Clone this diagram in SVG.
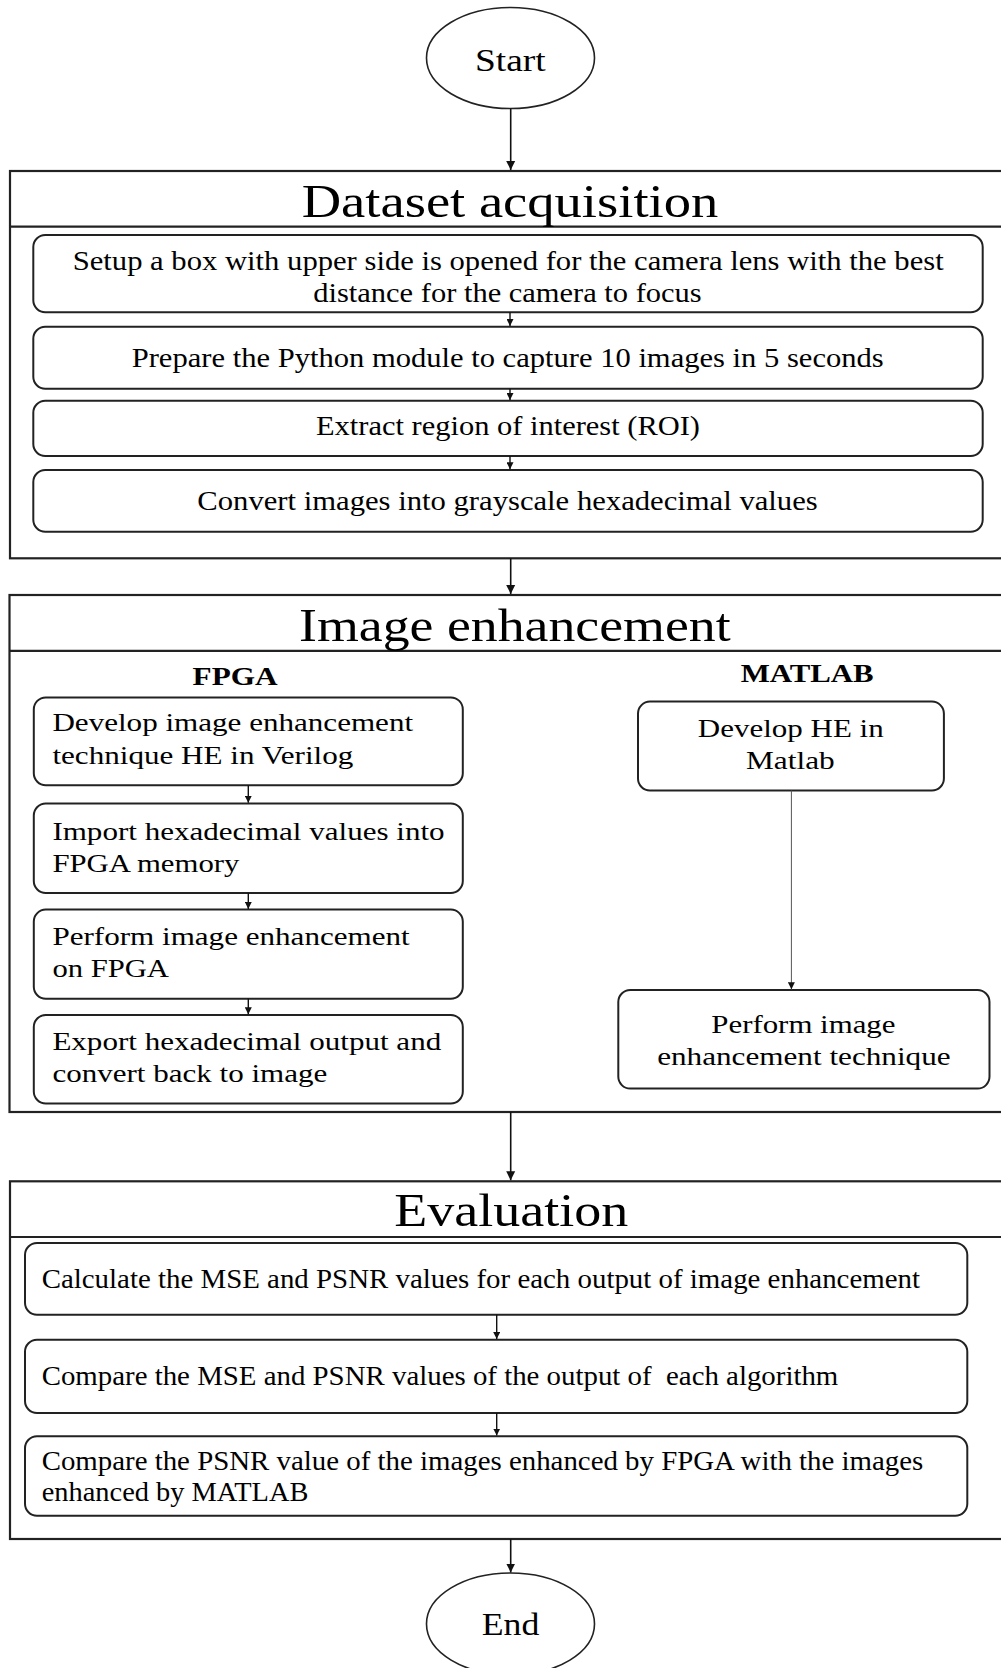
<svg xmlns="http://www.w3.org/2000/svg" width="1001" height="1668" viewBox="0 0 1001 1668">
<defs>
<style>
text{font-family:"Liberation Serif","Times New Roman",serif;fill:#000}
.t{font-size:47px}
.s{font-size:28px}
.m{font-size:25.5px}
.lb{font-size:26px;font-weight:bold}
.se{font-size:32px}
.sec{fill:#fff;stroke:#222;stroke-width:2.2}
.box{fill:#fff;stroke:#222;stroke-width:2}
.div{stroke:#222;stroke-width:2.2}
.ell{fill:#fff;stroke:#222;stroke-width:1.6}
.c{stroke:#111;stroke-width:1.6;fill:none}
.cs{stroke:#111;stroke-width:1.4;fill:none}
.ct{stroke:#555;stroke-width:1;fill:none}
</style>
<marker id="ah" viewBox="0 0 10 10" refX="10" refY="5" markerWidth="9" markerHeight="10" markerUnits="userSpaceOnUse" orient="auto">
<path d="M0,0 L10,5 L0,10 z" fill="#111"/>
</marker>
<marker id="ahs" viewBox="0 0 10 10" refX="10" refY="5" markerWidth="7" markerHeight="7" markerUnits="userSpaceOnUse" orient="auto">
<path d="M0,0 L10,5 L0,10 z" fill="#111"/>
</marker>
</defs>
<rect width="1001" height="1668" fill="#fff"/>

<g id="start">
<ellipse class="ell" cx="510.5" cy="58" rx="84" ry="50.5"/>
<text class="se" x="475" y="70.7" textLength="70.7" lengthAdjust="spacingAndGlyphs">Start</text>
</g>

<g id="dataset">
<rect class="sec" x="10" y="171" width="1010" height="387.3"/>
<line class="div" x1="10" y1="226.7" x2="1010" y2="226.7"/>
<text class="t" x="301.7" y="216.7" textLength="416.6" lengthAdjust="spacingAndGlyphs">Dataset acquisition</text>
</g>
<g id="setup">
<rect class="box" x="33.3" y="235" width="949.4" height="77.3" rx="12"/>
<text class="s" x="72.7" y="270" textLength="871" lengthAdjust="spacingAndGlyphs">Setup a box with upper side is opened for the camera lens with the best</text>
<text class="s" x="313.3" y="301.7" textLength="388.4" lengthAdjust="spacingAndGlyphs">distance for the camera to focus</text>
</g>
<g id="prepare">
<rect class="box" x="33.3" y="326.7" width="949.4" height="62" rx="12"/>
<text class="s" x="131.7" y="367" textLength="752" lengthAdjust="spacingAndGlyphs">Prepare the Python module to capture 10 images in 5 seconds</text>
</g>
<g id="extract">
<rect class="box" x="33.3" y="400.7" width="949.4" height="55.3" rx="12"/>
<text class="s" x="316" y="435.2" textLength="384" lengthAdjust="spacingAndGlyphs">Extract region of interest (ROI)</text>
</g>
<g id="convert">
<rect class="box" x="33.3" y="470" width="949.4" height="61.7" rx="12"/>
<text class="s" x="197.3" y="510" textLength="620.4" lengthAdjust="spacingAndGlyphs">Convert images into grayscale hexadecimal values</text>
</g>

<g id="enhancement">
<rect class="sec" x="9.5" y="595" width="1010" height="517"/>
<line class="div" x1="9.5" y1="650.8" x2="1010" y2="650.8"/>
<text class="t" x="299" y="640.7" textLength="431.7" lengthAdjust="spacingAndGlyphs">Image enhancement</text>
<text class="lb" x="192.6" y="685.3" textLength="85" lengthAdjust="spacingAndGlyphs">FPGA</text>
<text class="lb" x="740.7" y="682" textLength="133" lengthAdjust="spacingAndGlyphs">MATLAB</text>
</g>
<g id="fpga1">
<rect class="box" x="33.8" y="697.4" width="429" height="87.9" rx="12"/>
<text class="m" x="52.4" y="731.3" textLength="360.7" lengthAdjust="spacingAndGlyphs">Develop image enhancement</text>
<text class="m" x="52.4" y="764.1" textLength="300.9" lengthAdjust="spacingAndGlyphs">technique HE in Verilog</text>
</g>
<g id="fpga2">
<rect class="box" x="33.8" y="803.5" width="429" height="89.5" rx="12"/>
<text class="m" x="52.4" y="840.2" textLength="392.2" lengthAdjust="spacingAndGlyphs">Import hexadecimal values into</text>
<text class="m" x="52.4" y="871.6" textLength="187" lengthAdjust="spacingAndGlyphs">FPGA memory</text>
</g>
<g id="fpga3">
<rect class="box" x="33.8" y="909.6" width="429" height="89.2" rx="12"/>
<text class="m" x="52.4" y="945" textLength="357.3" lengthAdjust="spacingAndGlyphs">Perform image enhancement</text>
<text class="m" x="52.4" y="977.1" textLength="116.6" lengthAdjust="spacingAndGlyphs">on FPGA</text>
</g>
<g id="fpga4">
<rect class="box" x="33.8" y="1015" width="429" height="88.5" rx="12"/>
<text class="m" x="52.4" y="1050.4" textLength="388.8" lengthAdjust="spacingAndGlyphs">Export hexadecimal output and</text>
<text class="m" x="52.4" y="1081.9" textLength="274.9" lengthAdjust="spacingAndGlyphs">convert back to image</text>
</g>
<g id="matlab1">
<rect class="box" x="638" y="701.6" width="305.9" height="88.9" rx="12"/>
<text class="m" x="697.8" y="737" textLength="185.9" lengthAdjust="spacingAndGlyphs">Develop HE in</text>
<text class="m" x="746" y="769.2" textLength="88.7" lengthAdjust="spacingAndGlyphs">Matlab</text>
</g>
<g id="matlab2">
<rect class="box" x="618.3" y="990" width="371.2" height="98.6" rx="12"/>
<text class="m" x="711.3" y="1032.9" textLength="184.2" lengthAdjust="spacingAndGlyphs">Perform image</text>
<text class="m" x="657.2" y="1065" textLength="293.4" lengthAdjust="spacingAndGlyphs">enhancement technique</text>
</g>

<g id="evaluation">
<rect class="sec" x="10" y="1181.3" width="1010" height="357.7"/>
<line class="div" x1="10" y1="1237" x2="1010" y2="1237"/>
<text class="t" x="394.3" y="1226" textLength="234" lengthAdjust="spacingAndGlyphs">Evaluation</text>
</g>
<g id="eval1">
<rect class="box" x="25" y="1243" width="942.3" height="71.7" rx="12"/>
<text class="s" x="41.7" y="1288" textLength="878.3" lengthAdjust="spacingAndGlyphs">Calculate the MSE and PSNR values for each output of image enhancement</text>
</g>
<g id="eval2">
<rect class="box" x="25" y="1339.7" width="942.3" height="73.3" rx="12"/>
<text class="s" x="41.7" y="1385.3" textLength="796.6" lengthAdjust="spacingAndGlyphs" xml:space="preserve">Compare the MSE and PSNR values of the output of  each algorithm</text>
</g>
<g id="eval3">
<rect class="box" x="25" y="1436.3" width="942.3" height="79.4" rx="12"/>
<text class="s" x="41.7" y="1469.7" textLength="881.6" lengthAdjust="spacingAndGlyphs">Compare the PSNR value of the images enhanced by FPGA with the images</text>
<text class="s" x="41.7" y="1500.7" textLength="266.7" lengthAdjust="spacingAndGlyphs">enhanced by MATLAB</text>
</g>

<g id="end">
<ellipse class="ell" cx="510.5" cy="1624" rx="84" ry="51"/>
<text class="se" x="481.7" y="1634.7" textLength="57.6" lengthAdjust="spacingAndGlyphs">End</text>
</g>

<g id="connectors">
<line class="c" x1="510.7" y1="108.5" x2="510.7" y2="170" marker-end="url(#ah)"/>
<line class="cs" x1="510" y1="312.3" x2="510" y2="326" marker-end="url(#ahs)"/>
<line class="cs" x1="510" y1="388.7" x2="510" y2="400" marker-end="url(#ahs)"/>
<line class="cs" x1="510" y1="456" x2="510" y2="469.3" marker-end="url(#ahs)"/>
<line class="c" x1="510.7" y1="558.3" x2="510.7" y2="594" marker-end="url(#ah)"/>
<line class="cs" x1="248.3" y1="785.3" x2="248.3" y2="802.8" marker-end="url(#ahs)"/>
<line class="cs" x1="248.3" y1="893" x2="248.3" y2="908.9" marker-end="url(#ahs)"/>
<line class="cs" x1="248.3" y1="998.8" x2="248.3" y2="1014.3" marker-end="url(#ahs)"/>
<line class="ct" x1="791.4" y1="790.5" x2="791.4" y2="989.3" marker-end="url(#ahs)"/>
<line class="c" x1="510.7" y1="1112" x2="510.7" y2="1180.3" marker-end="url(#ah)"/>
<line class="cs" x1="496.7" y1="1314.7" x2="496.7" y2="1339" marker-end="url(#ahs)"/>
<line class="cs" x1="496.7" y1="1413" x2="496.7" y2="1435.6" marker-end="url(#ahs)"/>
<line class="c" x1="510.7" y1="1539" x2="510.7" y2="1572.5" marker-end="url(#ah)"/>
</g>
</svg>
